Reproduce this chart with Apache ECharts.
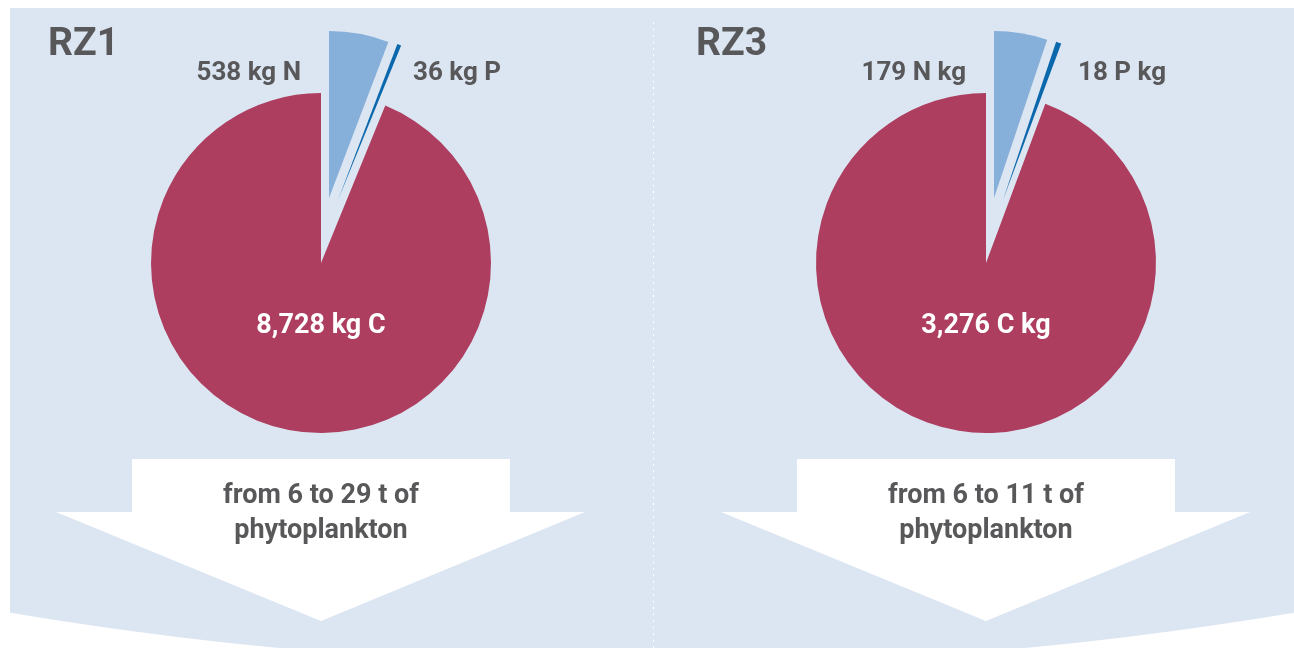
<!DOCTYPE html>
<html>
<head>
<meta charset="utf-8">
<script src="https://cdn.jsdelivr.net/npm/echarts@6/dist/echarts.min.js"></script>
<style>
  html, body { margin: 0; padding: 0; background: #fff; }
  #chart { width: 1294px; height: 648px; }
</style>
</head>
<body>
<div id="chart"></div>
<script>
  // data
  var panels = ['RZ1', 'RZ3']
  var nutrients = ['N', 'P', 'C']
  var rz1Values = [538, 36, 8728]
  var rz3Values = [179, 18, 3276]
  var arrowLines = [
    ['from 6 to 29 t of', 'phytoplankton'],
    ['from 6 to 11 t of', 'phytoplankton']
  ]

  var sliceColors = ['#86afda', '#0b68ad', '#ad3e5f']
  var panelBg = '#dce6f2'
  var textColor = '#58585a'
  var font = 'Roboto, "DejaVu Sans", sans-serif'

  var pieCenters = [321, 986]
  var pieY = 263
  // exploded slices (N, P) are moved up and right
  var sliceShift = [[8, -65], [17, -63], [0, 0]]
  var sliceRadius = [167, 167, 170]

  function fmt (v) {
    return v.toLocaleString('en-US')
  }
  function labelRZ1 (v, el) { return fmt(v) + ' kg ' + el }
  function labelRZ3 (v, el) { return fmt(v) + ' ' + el + ' kg' }

  function sliceSeries (values, cx, idx) {
    return {
      type: 'pie',
      silent: true,
      animation: false,
      center: [cx + sliceShift[idx][0], pieY + sliceShift[idx][1]],
      radius: sliceRadius[idx],
      startAngle: 90,
      clockwise: true,
      label: { show: false },
      labelLine: { show: false },
      emphasis: { disabled: true },
      data: values.map(function (v, i) {
        return {
          name: nutrients[i],
          value: v,
          itemStyle: {
            color: i === idx ? sliceColors[i] : 'rgba(0,0,0,0)',
            borderWidth: 0
          }
        }
      })
    }
  }

  var series = []
  var graphics = [
    // panel with curved bottom
    { type: 'circle', z: -10, silent: true, shape: { cx: 652, cy: -3222, r: 3888 }, style: { fill: panelBg } },
    { type: 'rect', z: -9, silent: true, shape: { x: 0, y: 0, width: 1294, height: 8 }, style: { fill: '#fff' } },
    { type: 'rect', z: -9, silent: true, shape: { x: 0, y: 0, width: 10, height: 648 }, style: { fill: '#fff' } },
    // dotted divider
    { type: 'line', z: -8, silent: true, shape: { x1: 653.5, y1: 22, x2: 653.5, y2: 648 }, style: { stroke: '#fff', lineWidth: 1, lineDash: [2, 4.5] } }
  ]

  var allValues = [rz1Values, rz3Values]
  var labelFns = [labelRZ1, labelRZ3]
  var titleX = [48, 696]

  panels.forEach(function (name, p) {
    var cx = pieCenters[p]
    var values = allValues[p]
    var labelFn = labelFns[p]
    series.push(sliceSeries(values, cx, 2))
    series.push(sliceSeries(values, cx, 0))
    series.push(sliceSeries(values, cx, 1))

    graphics.push({
      type: 'text', z: 20, silent: true, left: titleX[p], top: 26,
      style: { text: name, font: 'bold 39px ' + font, fill: textColor }
    })
    graphics.push({
      type: 'text', z: 20, silent: true, x: cx - 20, y: 73,
      style: { text: labelFn(values[0], nutrients[0]), font: 'bold 26px ' + font, fill: textColor, align: 'right', verticalAlign: 'middle' }
    })
    graphics.push({
      type: 'text', z: 20, silent: true, x: cx + 92, y: 73,
      style: { text: labelFn(values[1], nutrients[1]), font: 'bold 26px ' + font, fill: textColor, align: 'left', verticalAlign: 'middle' }
    })
    graphics.push({
      type: 'text', z: 20, silent: true, x: cx, y: 326,
      style: { text: labelFn(values[2], nutrients[2]), font: 'bold 27px ' + font, fill: '#fff', align: 'center', verticalAlign: 'middle' }
    })

    // white arrow
    graphics.push({
      type: 'polygon', z: -5, silent: true,
      shape: {
        points: [
          [cx - 189, 459], [cx + 189, 459], [cx + 189, 512], [cx + 264, 512],
          [cx, 621], [cx - 265, 512], [cx - 189, 512]
        ]
      },
      style: { fill: '#fff' }
    })
    graphics.push({
      type: 'text', z: 20, silent: true, x: cx, y: 496,
      style: { text: arrowLines[p][0], font: 'bold 27px ' + font, fill: textColor, align: 'center', verticalAlign: 'middle' }
    })
    graphics.push({
      type: 'text', z: 20, silent: true, x: cx, y: 531,
      style: { text: arrowLines[p][1], font: 'bold 27px ' + font, fill: textColor, align: 'center', verticalAlign: 'middle' }
    })
  })

  var myChart = echarts.init(document.getElementById('chart'))
  myChart.setOption({
    backgroundColor: '#fff',
    animation: false,
    graphic: { elements: graphics },
    series: series
  })
  window.addEventListener('resize', function () {
    myChart.resize()
  })
</script>
</body>
</html>
